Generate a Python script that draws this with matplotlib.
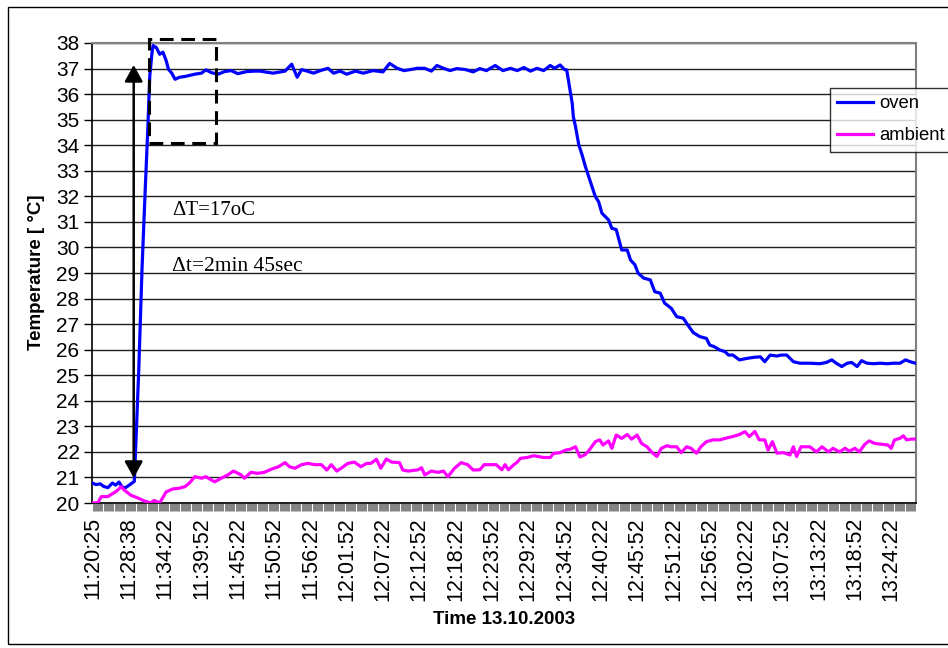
import matplotlib
matplotlib.use("Agg")
import matplotlib.pyplot as plt
from matplotlib.patches import Rectangle

plt.rcParams["font.family"] = ["Liberation Sans", "DejaVu Sans"]

# sample numbers (one category per logged sample) and readings
n_samples = 749
tick_step = 33
tick_labels = [
    "11:20:25", "11:28:38", "11:34:22", "11:39:52", "11:45:22", "11:50:52",
    "11:56:22", "12:01:52", "12:07:22", "12:12:52", "12:18:22", "12:23:52",
    "12:29:22", "12:34:52", "12:40:22", "12:45:52", "12:51:22", "12:56:52",
    "13:02:22", "13:07:52", "13:13:22", "13:18:52", "13:24:22",
]

oven_idx = [0, 3, 7, 10, 14, 18, 21, 24, 27, 30, 34, 38, 42, 45, 48, 50, 52, 54,
            55, 58, 61, 64, 67, 69, 72, 75, 79, 84, 87, 93, 99, 103, 108, 114, 120,
            126, 132, 140, 147, 152, 164, 175, 181, 186, 190, 195, 201, 207, 214,
            219, 225, 231, 239, 246, 255, 264, 270, 277, 283, 289, 295, 302, 308,
            313, 319, 325, 331, 339, 346, 352, 358, 366, 373, 380, 386, 392, 398,
            404, 410, 416, 420, 425, 429, 431, 434, 436, 437, 439, 442, 445, 448,
            451, 454, 457, 460, 463, 469, 472, 476, 481, 486, 489, 493, 496, 501,
            507, 511, 516, 520, 526, 531, 537, 541, 546, 552, 558, 561, 565, 570,
            575, 578, 582, 588, 595, 601, 607, 611, 616, 622, 626, 631, 637, 643,
            652, 661, 667, 672, 676, 681, 686, 690, 695, 699, 704, 710, 716, 722,
            728, 734, 739, 743, 748]
oven = [20.78, 20.72, 20.75, 20.65, 20.6, 20.78, 20.7, 20.82, 20.62, 20.6, 20.72,
        20.85, 25.2, 29.2, 32.4, 34.4, 36.7, 37.6, 37.9, 37.82, 37.56, 37.64,
        37.3, 36.97, 36.82, 36.58, 36.66, 36.69, 36.72, 36.78, 36.82, 36.95,
        36.84, 36.78, 36.88, 36.92, 36.8, 36.88, 36.9, 36.9, 36.82, 36.9, 37.17,
        36.66, 36.96, 36.9, 36.82, 36.92, 37.01, 36.82, 36.9, 36.78, 36.9, 36.82,
        36.92, 36.87, 37.2, 37.01, 36.92, 36.96, 37.01, 37.01, 36.9, 37.12,
        37.01, 36.92, 37.0, 36.96, 36.87, 37.0, 36.92, 37.12, 36.92, 37.01,
        36.92, 37.04, 36.9, 37.01, 36.92, 37.12, 37.01, 37.14, 36.96, 36.95,
        36.16, 35.64, 35.12, 34.73, 34.01, 33.62, 33.16, 32.77, 32.38, 31.99,
        31.79, 31.34, 31.08, 30.75, 30.7, 29.9, 29.9, 29.51, 29.32, 28.99, 28.8,
        28.73, 28.27, 28.21, 27.82, 27.62, 27.29, 27.23, 26.97, 26.67, 26.51,
        26.44, 26.18, 26.12, 25.99, 25.92, 25.79, 25.79, 25.6, 25.66, 25.7,
        25.72, 25.53, 25.79, 25.75, 25.79, 25.79, 25.53, 25.47, 25.47, 25.45,
        25.5, 25.6, 25.47, 25.34, 25.47, 25.5, 25.34, 25.57, 25.47, 25.45,
        25.47, 25.45, 25.47, 25.47, 25.6, 25.53, 25.47]

amb_idx = [0, 5, 8, 14, 22, 26, 29, 35, 41, 47, 53, 56, 61, 67, 73, 79, 84, 88,
           93, 99, 103, 108, 111, 117, 123, 128, 135, 138, 144, 150, 156, 163, 169,
           175, 179, 184, 190, 196, 202, 208, 213, 217, 222, 226, 232, 238, 244,
           249, 253, 258, 262, 267, 272, 279, 282, 287, 296, 299, 302, 308, 314,
           319, 323, 329, 335, 341, 346, 352, 356, 362, 367, 372, 375, 378, 383,
           386, 389, 395, 401, 410, 416, 419, 425, 430, 434, 439, 443, 448, 452,
           457, 461, 464, 469, 472, 476, 481, 486, 490, 495, 499, 504, 508, 513,
           517, 522, 526, 531, 535, 540, 544, 549, 553, 558, 564, 570, 577, 582,
           588, 593, 597, 602, 606, 611, 614, 618, 622, 628, 634, 637, 640, 644,
           652, 658, 663, 669, 673, 679, 684, 688, 693, 697, 702, 706, 711, 717,
           723, 726, 729, 734, 737, 740, 744, 748]
ambient = [20.0, 20.02, 20.25, 20.25, 20.47, 20.64, 20.5, 20.3, 20.2, 20.08, 20.0,
           20.1, 20.0, 20.44, 20.55, 20.58, 20.64, 20.78, 21.03, 20.97, 21.03,
           20.9, 20.83, 20.97, 21.1, 21.25, 21.1, 20.97, 21.2, 21.16, 21.2, 21.33,
           21.42, 21.58, 21.42, 21.36, 21.5, 21.55, 21.5, 21.5, 21.29, 21.5,
           21.25, 21.36, 21.55, 21.6, 21.42, 21.55, 21.55, 21.71, 21.36, 21.72,
           21.6, 21.58, 21.29, 21.25, 21.3, 21.38, 21.1, 21.25, 21.2, 21.25,
           21.03, 21.36, 21.58, 21.5, 21.29, 21.3, 21.5, 21.5, 21.5, 21.3, 21.5,
           21.3, 21.5, 21.6, 21.75, 21.78, 21.85, 21.78, 21.78, 21.94, 21.97,
           22.07, 22.1, 22.2, 21.8, 21.9, 22.1, 22.4, 22.47, 22.27, 22.43, 22.14,
           22.66, 22.53, 22.68, 22.5, 22.66, 22.33, 22.2, 22.0, 21.82, 22.14,
           22.24, 22.2, 22.2, 21.97, 22.2, 22.14, 21.95, 22.2, 22.4, 22.47, 22.47,
           22.55, 22.6, 22.68, 22.79, 22.6, 22.8, 22.47, 22.47, 22.07, 22.4,
           21.95, 21.97, 21.88, 22.2, 21.82, 22.2, 22.2, 22.0, 22.2, 22.0, 22.14,
           22.0, 22.14, 22.03, 22.14, 22.0, 22.3, 22.43, 22.33, 22.3, 22.27,
           22.14, 22.47, 22.53, 22.63, 22.47, 22.5, 22.5]

W, H = 948, 648
fig = plt.figure(figsize=(W / 100, H / 100), dpi=100)
ax = fig.add_axes([92 / W, 1 - 503 / H, 824 / W, 460 / H])

ax.plot(oven_idx, oven, color="#0000FF", lw=2.3, label="oven", zorder=3)
ax.plot(amb_idx, ambient, color="#FF00FF", lw=2.3, label="ambient", zorder=3)

ax.set_xlim(-0.5, n_samples - 0.5)
ax.set_ylim(20, 38)
ax.set_yticks(range(20, 39))
ax.yaxis.grid(True, color="#202020", lw=1.0)
ax.set_axisbelow(True)

ax.set_xticks(range(0, n_samples, tick_step))
ax.set_xticklabels(tick_labels, rotation=90)
ax.set_xticks(range(n_samples), minor=True)
ax.tick_params(axis="x", which="both", direction="out", length=6, width=0.5,
               color="#505050", labelsize=15.5, pad=4)
ax.tick_params(axis="y", direction="out", length=6, width=1, labelsize=15, pad=3)

for side in ["top", "right"]:
    ax.spines[side].set_color("#808080")
    ax.spines[side].set_linewidth(1.5)
ax.spines["left"].set_linewidth(1.2)
ax.spines["bottom"].set_linewidth(1.2)

# annotations
ax.annotate("", xy=(37.4, 20.98), xytext=(37.4, 37.14),
            arrowprops=dict(arrowstyle="<|-|>,head_length=1.0,head_width=0.55",
                            mutation_scale=10, color="black", lw=1.8,
                            shrinkA=0, shrinkB=0), zorder=4)
ax.add_patch(Rectangle((51, 34.08), 61, 4.07, fill=False, ec="black", lw=2.2,
                       ls=(0, (4.5, 2.5)), clip_on=False, zorder=4))
ax.text(72, 31.43, "ΔT=17oC", family="Liberation Serif", fontsize=15, va="center")
ax.text(72, 29.24, "Δt=2min 45sec", family="Liberation Serif", fontsize=15.5,
        va="center")

fig.text(37 / W, 1 - 272 / H, "Temperature [ °C]", rotation=90, ha="center",
         va="center", fontsize=13.5, fontweight="bold")
fig.text(504 / W, 1 - 620 / H, "Time 13.10.2003", ha="center", va="center",
         fontsize=13.5, fontweight="bold")

leg = ax.legend(loc="upper left", bbox_to_anchor=(830 / W, 1 - 88 / H),
                bbox_transform=fig.transFigure, fontsize=13.3, frameon=True,
                fancybox=False, handlelength=1.95, handletextpad=0.3,
                labelspacing=0.8, borderpad=0.4, borderaxespad=0)
leg.get_frame().set_edgecolor("black")
leg.get_frame().set_linewidth(1.0)

# outer chart border
fig.patches.append(Rectangle((8 / W, 4 / H), 1.2, 1 - 11 / H, fill=False,
                             ec="black", lw=1.0, transform=fig.transFigure))

fig.savefig("out.png", dpi=100)
